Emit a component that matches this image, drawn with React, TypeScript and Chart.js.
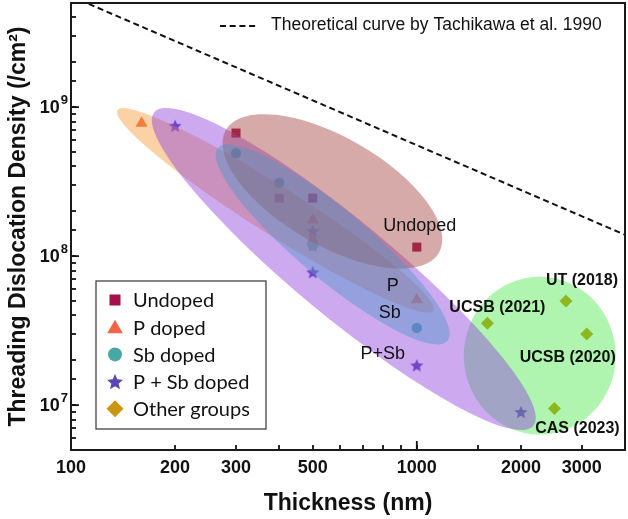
import React, { useEffect, useRef } from 'react';
import { Chart, registerables } from 'chart.js';

Chart.register(...registerables);

// ---------- data ----------
const undopedX = [300, 400, 500, 1000];
const undopedY = [6.7e8, 2.45e8, 2.45e8, 1.15e8];
const pDopedX = [160, 500, 500, 1000];
const pDopedY = [7.8e8, 1.75e8, 1.3e8, 5.1e7];
const sbDopedX = [300, 400, 500, 1000];
const sbDopedY = [4.9e8, 3.1e8, 1.18e8, 3.3e7];
const pSbDopedX = [200, 500, 500, 500, 1000, 2000];
const pSbDopedY = [7.5e8, 1.48e8, 1.18e8, 7.8e7, 1.85e7, 9.0e6];
const otherX = [1600, 2700, 3100, 2500];
const otherY = [3.55e7, 5.0e7, 3.0e7, 9.5e6];
const otherNames = ['UCSB (2021)', 'UT (2018)', 'UCSB (2020)', 'CAS (2023)'];
const theoryX = [100, 4000];
const theoryY = [5.55e9, 1.39e8];
const xTickLabels = [100, 200, 300, 500, 1000, 2000, 3000];
const yTickLabels = [1e7, 1e8, 1e9];
const seriesNames = ['Undoped', 'P doped', 'Sb doped', 'P + Sb doped', 'Other groups'];
const theoryName = 'Theoretical curve by Tachikawa et al. 1990';
const groupTags = ['Undoped', 'P', 'Sb', 'P+Sb'];

// ---------- decoration (not data) ----------
const ellipses = [
  { cx: 2267, cy: 2.15e7, a: 79, b: 76, angle: 90, color: 'rgba(55,230,55,0.40)' },
  { cx: 390, cy: 2.03e8, a: 187, b: 24, angle: 32.4, color: 'rgba(244,155,55,0.45)' },
  { cx: 615, cy: 8.2e7, a: 246, b: 48, angle: 39.6, color: 'rgba(144,66,222,0.45)' },
  { cx: 570, cy: 2.72e8, a: 123, b: 54, angle: 30, color: 'rgba(167,66,66,0.45)' },
  { cx: 571, cy: 1.2e8, a: 150, b: 35, angle: 40, color: 'rgba(80,150,200,0.45)' },
];
const groupTagAnchors = [
  { ds: 0, idx: 3, dx: 3, dy: -21.5 },
  { ds: 1, idx: 3, dx: -24, dy: -14 },
  { ds: 2, idx: 3, dx: -27, dy: -15 },
  { ds: 3, idx: 4, dx: -34, dy: -11 },
];
const otherTagOffsets = [
  { dx: 10, dy: -16 },
  { dx: 16, dy: -20 },
  { dx: -19, dy: 24 },
  { dx: 23, dy: 20 },
];

const ARIAL = '"Liberation Sans", Arial, sans-serif';
const LEGEND_FONT = 'Lato, "Open Sans", sans-serif';

function makeStar(color: string, size: number) {
  const c = document.createElement('canvas');
  c.width = size;
  c.height = size;
  const g = c.getContext('2d') as CanvasRenderingContext2D;
  const R = size / 2;
  const r = R * 0.45;
  const cy = R + R * 0.09;
  g.beginPath();
  for (let i = 0; i < 10; i++) {
    const rad = i % 2 === 0 ? R : r;
    const ang = -Math.PI / 2 + (i * Math.PI) / 5;
    const px = R + rad * Math.cos(ang);
    const py = cy + rad * Math.sin(ang);
    if (i === 0) g.moveTo(px, py);
    else g.lineTo(px, py);
  }
  g.closePath();
  g.fillStyle = color;
  g.fill();
  return c;
}

function drawLegendMarker(ctx: CanvasRenderingContext2D, style: any, x: number, y: number, color: string) {
  ctx.save();
  ctx.fillStyle = color;
  if (style === 'rect') {
    ctx.fillRect(x - 5.5, y - 5.5, 11, 11);
  } else if (style === 'triangle') {
    const R = 9;
    ctx.beginPath();
    for (let i = 0; i < 3; i++) {
      const a = -Math.PI / 2 + (i * 2 * Math.PI) / 3;
      const px = x + R * Math.cos(a);
      const py = y + 1.5 + R * Math.sin(a);
      if (i === 0) ctx.moveTo(px, py);
      else ctx.lineTo(px, py);
    }
    ctx.closePath();
    ctx.fill();
  } else if (style === 'circle') {
    ctx.beginPath();
    ctx.arc(x, y, 7, 0, Math.PI * 2);
    ctx.fill();
  } else if (style === 'rectRot') {
    const R = 8.5;
    ctx.beginPath();
    ctx.moveTo(x, y - R);
    ctx.lineTo(x + R, y);
    ctx.lineTo(x, y + R);
    ctx.lineTo(x - R, y);
    ctx.closePath();
    ctx.fill();
  } else if (style && style.width) {
    const s = 17;
    ctx.drawImage(style, x - s / 2, y - s / 2, s, s);
  }
  ctx.restore();
}

const X_MIN = 100;
const X_MAX = 4000;
const Y_MIN = 5e6;
const Y_MAX = 5e9;

const isPow10 = (v: number) => Math.abs(Math.log10(v) - Math.round(Math.log10(v))) < 1e-6;

const overlayPlugin = {
  id: 'overlay',
  afterDatasetsDraw(chart: any) {
    const { ctx, chartArea: ca } = chart;
    const xs = chart.scales.x;
    const ys = chart.scales.y;
    ctx.save();
    ctx.beginPath();
    ctx.rect(ca.left, ca.top, ca.right - ca.left, ca.bottom - ca.top);
    ctx.clip();
    for (const e of ellipses) {
      const px = xs.getPixelForValue(e.cx);
      const py = ys.getPixelForValue(e.cy);
      ctx.beginPath();
      ctx.ellipse(px, py, e.a, e.b, (e.angle * Math.PI) / 180, 0, Math.PI * 2);
      ctx.fillStyle = e.color;
      ctx.fill();
    }
    ctx.restore();

    ctx.save();
    ctx.textAlign = 'center';
    ctx.textBaseline = 'middle';
    ctx.fillStyle = '#111';
    ctx.font = `18px ${ARIAL}`;
    groupTagAnchors.forEach((g, i) => {
      const el = chart.getDatasetMeta(g.ds).data[g.idx];
      ctx.fillText(groupTags[i], el.x + g.dx, el.y + g.dy);
    });
    ctx.font = `bold 16px ${ARIAL}`;
    const meta = chart.getDatasetMeta(4);
    otherNames.forEach((n, i) => {
      const el = meta.data[i];
      ctx.fillText(n, el.x + otherTagOffsets[i].dx, el.y + otherTagOffsets[i].dy);
    });
    ctx.restore();
  },
  afterDraw(chart: any) {
    const { ctx, chartArea: ca } = chart;
    const xs = chart.scales.x;
    const ys = chart.scales.y;
    ctx.save();
    ctx.setLineDash([]);
    // longer inward ticks at the decades
    ctx.fillStyle = '#111';
    xs.ticks.forEach((t: any) => {
      if (!isPow10(t.value)) return;
      const px = xs.getPixelForValue(t.value);
      if (px < ca.left + 2) return;
      ctx.fillRect(px - 0.9, ca.bottom - 9, 1.8, 9);
    });
    ys.ticks.forEach((t: any) => {
      if (!isPow10(t.value)) return;
      const py = ys.getPixelForValue(t.value);
      ctx.fillRect(ca.left, py - 0.9, 8, 1.8);
    });
    // frame
    ctx.lineWidth = 2;
    ctx.strokeStyle = '#1a1a1a';
    ctx.strokeRect(ca.left, ca.top, ca.right - ca.left, ca.bottom - ca.top);

    // y tick labels as 10 with superscript exponent
    ctx.fillStyle = '#111';
    ctx.textBaseline = 'middle';
    yTickLabels.forEach((v) => {
      const py = ys.getPixelForValue(v);
      const exp = String(Math.round(Math.log10(v)));
      ctx.font = `bold 13px ${ARIAL}`;
      const ew = ctx.measureText(exp).width;
      ctx.textAlign = 'right';
      ctx.fillText(exp, ca.left - 3, py - 7);
      ctx.font = `bold 18px ${ARIAL}`;
      ctx.fillText('10', ca.left - 3 - ew - 1, py + 1);
    });

    // theory legend entry
    const theory = chart.data.datasets[5];
    const ly = ca.top + 23;
    const lx = ca.left + 149;
    ctx.setLineDash(theory.borderDash);
    ctx.lineWidth = theory.borderWidth;
    ctx.strokeStyle = theory.borderColor;
    ctx.beginPath();
    ctx.moveTo(lx, ly);
    ctx.lineTo(lx + 38, ly);
    ctx.stroke();
    ctx.setLineDash([]);
    ctx.fillStyle = '#111';
    ctx.font = `17.5px ${ARIAL}`;
    ctx.textAlign = 'left';
    ctx.textBaseline = 'middle';
    ctx.fillText(theory.label, lx + 51, ly - 0.5);

    // series legend box
    const bx = ca.left + 25;
    const by = ca.bottom - 169;
    const bw = 170;
    const bh = 148;
    ctx.fillStyle = '#fff';
    ctx.fillRect(bx, by, bw, bh);
    ctx.lineWidth = 1.3;
    ctx.strokeStyle = '#444';
    ctx.strokeRect(bx, by, bw, bh);
    ctx.font = `20px ${LEGEND_FONT}`;
    for (let i = 0; i < 5; i++) {
      const ds = chart.data.datasets[i];
      const yy = by + 19 + i * 27.2;
      drawLegendMarker(ctx, ds.legendStyle || ds.pointStyle, bx + 19, yy, ds.legendColor || ds.backgroundColor);
      ctx.fillStyle = '#111';
      ctx.fillText(ds.label, bx + 37, yy + 1);
    }
    ctx.restore();
  },
};

const tickGrid = {
  display: true,
  drawOnChartArea: false,
  drawTicks: true,
  tickLength: -5,
  tickWidth: 1.8,
  tickColor: '#111',
  color: '#111',
  lineWidth: 0,
};

export default function App() {
  const ref = useRef<HTMLCanvasElement | null>(null);
  useEffect(() => {
    if (!ref.current) return;
    const pts = (xs: number[], ys: number[]) => xs.map((x, i) => ({ x, y: ys[i] }));
    const starPlot = makeStar('#5b45b8', 14);
    const starLegend = makeStar('#5b45b8', 34);
    const colors = ['#a3104a', '#f26448', '#4aa8a4', '#5b45b8', '#c8960f'];
    const base = (i: number) => ({
      label: seriesNames[i],
      backgroundColor: colors[i],
      borderColor: colors[i],
      borderWidth: 0,
    });
    const chart = new Chart(ref.current, {
      type: 'scatter',
      data: {
        datasets: [
          { ...base(0), data: pts(undopedX, undopedY), pointStyle: 'rect', pointRadius: 6.4 },
          { ...base(1), data: pts(pDopedX, pDopedY), pointStyle: 'triangle', pointRadius: 7 },
          { ...base(2), data: pts(sbDopedX, sbDopedY), pointStyle: 'circle', pointRadius: 5.2 },
          { ...base(3), data: pts(pSbDopedX, pSbDopedY), pointStyle: starPlot, legendStyle: starLegend, pointRadius: 7 } as any,
          { ...base(4), data: pts(otherX, otherY), pointStyle: 'rectRot', pointRadius: 6.5, legendColor: '#c8960f' } as any,
          {
            label: theoryName,
            data: pts(theoryX, theoryY),
            showLine: true,
            borderColor: '#111',
            borderWidth: 2,
            borderDash: [6, 3.7],
            pointRadius: 0,
            fill: false,
          } as any,
        ],
      },
      options: {
        responsive: false,
        animation: false,
        layout: { autoPadding: false, padding: { left: 0, top: 3, right: 3, bottom: 0 } },
        plugins: { legend: { display: false }, tooltip: { enabled: false }, title: { display: false } },
        scales: {
          x: {
            type: 'logarithmic',
            min: X_MIN,
            max: X_MAX,
            border: { display: false },
            grid: tickGrid,
            ticks: {
              autoSkip: false,
              maxRotation: 0,
              minRotation: 0,
              padding: 12,
              color: '#111',
              font: { family: ARIAL, size: 18, weight: 'bold' },
              callback: (v: any) => {
                const hit = xTickLabels.find((t) => Math.abs(Math.log10(t) - Math.log10(Number(v))) < 1e-6);
                return hit ? String(hit) : '';
              },
            },
            title: {
              display: true,
              text: 'Thickness (nm)',
              color: '#111',
              font: { family: ARIAL, size: 23, weight: 'bold' },
              padding: { top: 0, bottom: 2 },
            },
            afterFit: (s: any) => {
              s.height = 69;
              s.paddingLeft = 0;
              s.paddingRight = 0;
            },
          },
          y: {
            type: 'logarithmic',
            min: Y_MIN,
            max: Y_MAX,
            border: { display: false },
            grid: tickGrid,
            ticks: {
              autoSkip: false,
              padding: 3,
              callback: () => '',
            },
            title: {
              display: true,
              text: 'Threading Dislocation Density (/cm²)',
              color: '#111',
              font: { family: ARIAL, size: 23, weight: 'bold' },
              padding: { top: 5, bottom: 0 },
            },
            afterFit: (s: any) => {
              s.width = 71;
              s.paddingTop = 0;
              s.paddingBottom = 0;
            },
          },
        },
      } as any,
      plugins: [overlayPlugin],
    });
    return () => chart.destroy();
  }, []);
  return (
    <div style={{ position: 'fixed', left: 0, top: 0, width: 628, height: 519, background: '#fff' }}>
      <canvas ref={ref} width={628} height={519} style={{ display: 'block' }} />
    </div>
  );
}
